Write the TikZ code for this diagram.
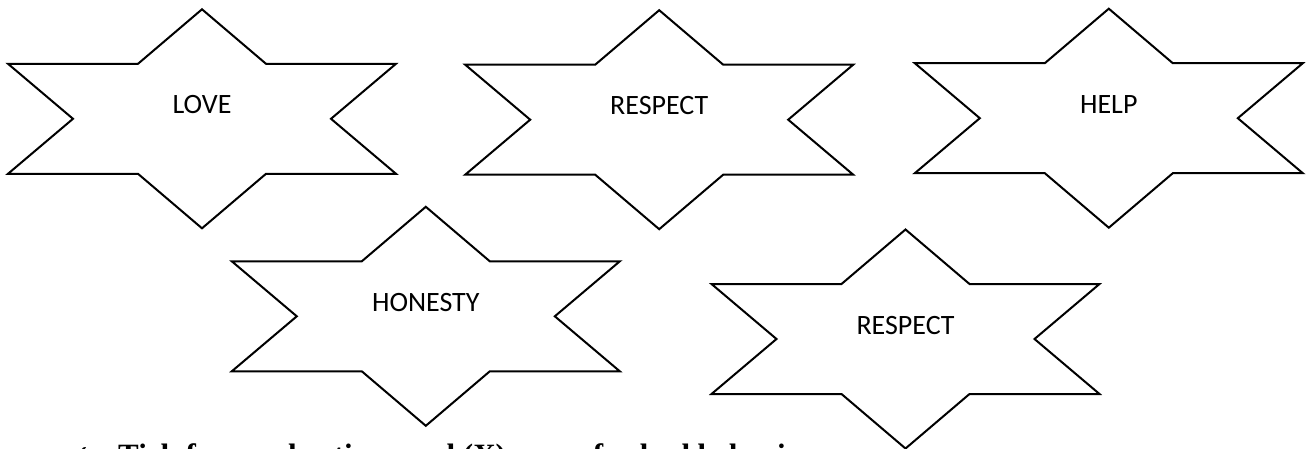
\documentclass[tikz,border=0pt]{standalone}
\usepackage{fontspec}
\setmainfont{Liberation Serif}
\newfontfamily\calibrilike{Carlito}
\newfontfamily\symbolfont{DejaVu Sans}
\begin{document}
\begin{tikzpicture}[x=1pt,y=-1pt,
  starline/.style={line width=2pt,line join=miter},
  valuetext/.style={font=\calibrilike\fontsize{28}{32}\selectfont,inner sep=0pt,anchor=base},
  notetext/.style={font=\bfseries\fontsize{31}{36}\selectfont,inner sep=0pt,anchor=base west}]
\useasboundingbox (0,0) rectangle (1308,449);

% six-pointed stars, one value in each
\foreach \cx/\cy/\word [count=\i] in {202/118.8/LOVE, 659.2/119.7/RESPECT, 1108.8/118.2/HELP, 425.8/316.3/HONESTY, 905.5/339/RESPECT}{
  \draw[starline] (\cx,\cy-109.5) -- (\cx-64,\cy-55) -- (\cx-194,\cy-55) -- (\cx-129,\cy)
    -- (\cx-194,\cy+55) -- (\cx-64,\cy+55) -- (\cx,\cy+109.5) -- (\cx+64,\cy+55)
    -- (\cx+194,\cy+55) -- (\cx+129,\cy) -- (\cx+194,\cy-55) -- (\cx+64,\cy-55) -- cycle;
  \node[valuetext] (value\i) at (\cx,\cy-5) {\word};
}

% instruction line, cut by the lower page edge
\node[notetext,font=\symbolfont\fontsize{27}{30}\selectfont] (tick) at (68,464) {✓};
\node[notetext] (note) at (118,465) {Tick for good actions and (X)\hspace{79pt} for bad behaviour};
\end{tikzpicture}
\end{document}
